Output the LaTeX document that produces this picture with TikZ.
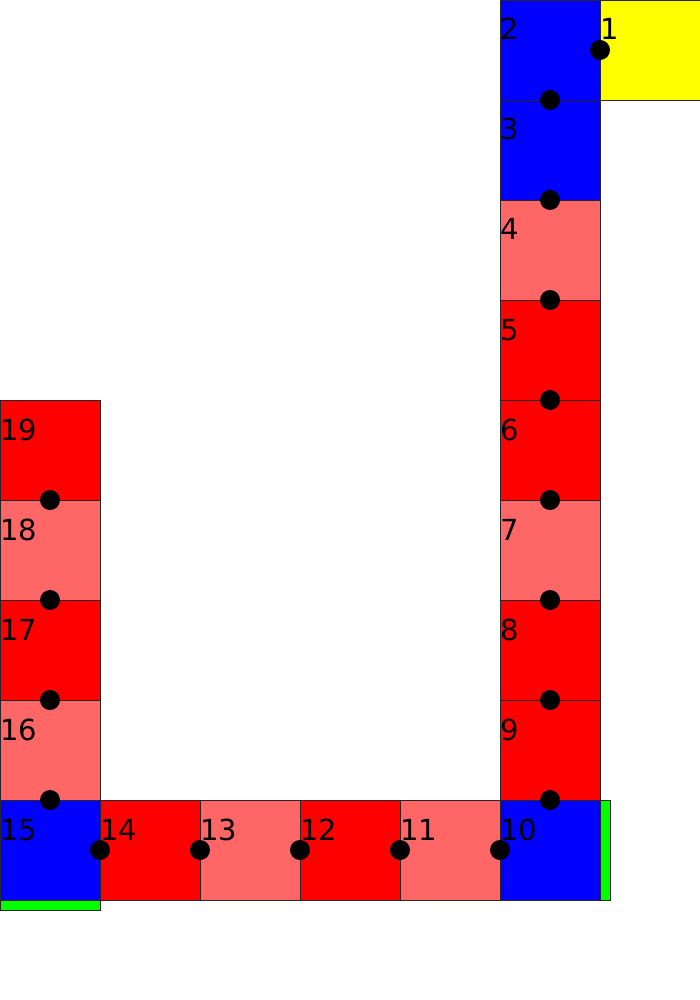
\documentclass[tikz,border=0pt]{standalone}
\usepackage{fontspec}
\setmainfont{DejaVu Sans}
\definecolor{cred}{HTML}{FF0000}
\definecolor{clight}{HTML}{FF6666}
\definecolor{cblue}{HTML}{0000FF}
\definecolor{cyellow}{HTML}{FFFF00}
\definecolor{cgreen}{HTML}{00FF00}
\tikzset{
  cell/.style={draw=black!85, line width=1pt, inner sep=0pt, minimum size=100pt, anchor=north west},
  strip/.style={draw=black!85, line width=1pt, fill=cgreen},
  dot/.style={fill=black},
  lbl/.style={anchor=base west, inner sep=0pt, font=\fontsize{29}{29}\selectfont}
}
\begin{document}
\begin{tikzpicture}[x=1pt, y=-1pt]
\useasboundingbox (0,0) rectangle (700,1000);
% green strips
\draw[strip] (600,800) rectangle (610,900);
\draw[strip] (0,900) rectangle (100,910);
% cells: x, y, colour, number
\foreach \x/\y/\c/\n in {
  600/0/cyellow/1, 500/0/cblue/2, 500/100/cblue/3, 500/200/clight/4,
  500/300/cred/5, 500/400/cred/6, 500/500/clight/7, 500/600/cred/8,
  500/700/cred/9, 500/800/cblue/10, 400/800/clight/11, 300/800/cred/12,
  200/800/clight/13, 100/800/cred/14, 0/800/cblue/15, 0/700/clight/16,
  0/600/cred/17, 0/500/clight/18, 0/400/cred/19}{
  \node[cell, fill=\c] (c\n) at (\x,\y) {};
}
% dots
\foreach \x/\y in {600/50, 550/100, 550/200, 550/300, 550/400, 550/500, 550/600,
  550/700, 550/800, 500/850, 400/850, 300/850, 200/850, 100/850,
  50/800, 50/700, 50/600, 50/500}{
  \fill[dot] (\x,\y) circle (10pt);
}
% labels
\foreach \x/\y/\n in {
  600/0/1, 500/0/2, 500/100/3, 500/200/4,
  500/300/5, 500/400/6, 500/500/7, 500/600/8,
  500/700/9, 500/800/10, 400/800/11, 300/800/12,
  200/800/13, 100/800/14, 0/800/15, 0/700/16,
  0/600/17, 0/500/18, 0/400/19}{
  \node[lbl] (t\n) at (\x,\y+40) {\n};
}
\end{tikzpicture}
\end{document}
